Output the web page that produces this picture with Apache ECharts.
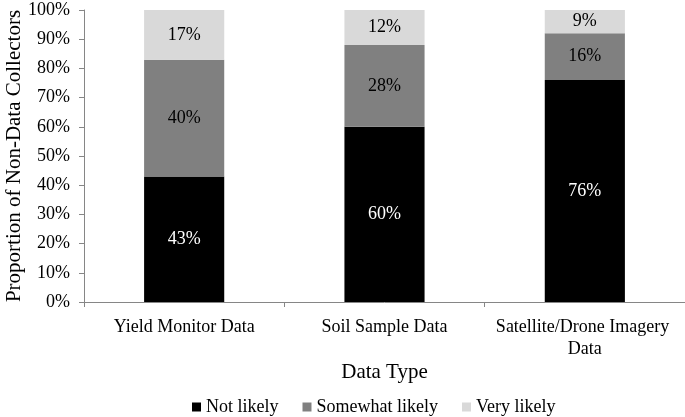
<!DOCTYPE html>
<html>
<head>
<meta charset="utf-8">
<script src="https://cdn.jsdelivr.net/npm/echarts@6/dist/echarts.min.js"></script>
<style>
  html, body { margin: 0; padding: 0; background: #fff; }
  #chart { width: 685px; height: 417px; }
</style>
</head>
<body>
<div id="chart"></div>
<script>
const categories = ['Yield Monitor Data', 'Soil Sample Data', 'Satellite/Drone Imagery Data'];
const notLikely = [43, 60, 76];
const somewhatLikely = [40, 28, 16];
const veryLikely = [17, 12, 9];
const yTicks = [0, 10, 20, 30, 40, 50, 60, 70, 80, 90, 100];

const font = 'Liberation Serif, Times New Roman, serif';
const axisColor = '#868686';

const myChart = echarts.init(document.getElementById('chart'));

const makeSeries = (name, data, color, labelColor) => ({
  name: name,
  type: 'bar',
  stack: 'total',
  data: data,
  barWidth: '40%',
  itemStyle: { color: color },
  label: {
    show: true,
    position: 'inside',
    color: labelColor,
    fontFamily: font,
    fontSize: 18,
    formatter: (p) => p.value + '%'
  }
});

myChart.setOption({
  animation: false,
  textStyle: { fontFamily: font },
  grid: {
    left: 84,
    right: 0,
    top: 10,
    bottom: 115,
    containLabel: false,
    outerBoundsMode: 'none'
  },
  legend: {
    top: 393,
    left: 187,
    itemWidth: 9,
    itemHeight: 9,
    itemGap: 24,
    icon: 'rect',
    textStyle: { fontFamily: font, fontSize: 18, color: '#000' },
    data: ['Not likely', 'Somewhat likely', 'Very likely']
  },
  xAxis: {
    type: 'category',
    data: categories,
    name: 'Data Type',
    nameLocation: 'middle',
    nameGap: 60,
    nameMoveOverlap: false,
    nameTextStyle: { fontFamily: font, fontSize: 21, color: '#000' },
    axisLine: { show: true, lineStyle: { color: axisColor, width: 1 } },
    axisTick: { show: true, alignWithLabel: false, length: 5, lineStyle: { color: axisColor } },
    axisLabel: {
      color: '#000',
      fontFamily: font,
      fontSize: 18,
      margin: 14,
      interval: 0,
      width: 195,
      overflow: 'break',
      lineHeight: 22
    }
  },
  yAxis: {
    type: 'value',
    min: yTicks[0],
    max: yTicks[yTicks.length - 1],
    interval: 10,
    name: 'Proportion of Non-Data Collectors',
    nameLocation: 'middle',
    nameRotate: 90,
    nameGap: 59,
    nameMoveOverlap: false,
    nameTextStyle: { fontFamily: font, fontSize: 21, color: '#000' },
    axisLine: { show: true, lineStyle: { color: axisColor, width: 1 } },
    axisTick: { show: true, length: 5, lineStyle: { color: axisColor } },
    splitLine: { show: false },
    axisLabel: {
      color: '#000',
      fontFamily: font,
      fontSize: 18,
      margin: 14,
      formatter: (v) => v + '%'
    }
  },
  series: [
    makeSeries('Not likely', notLikely, '#000000', '#ffffff'),
    makeSeries('Somewhat likely', somewhatLikely, '#808080', '#000000'),
    makeSeries('Very likely', veryLikely, '#d9d9d9', '#000000')
  ]
});
</script>
</body>
</html>
